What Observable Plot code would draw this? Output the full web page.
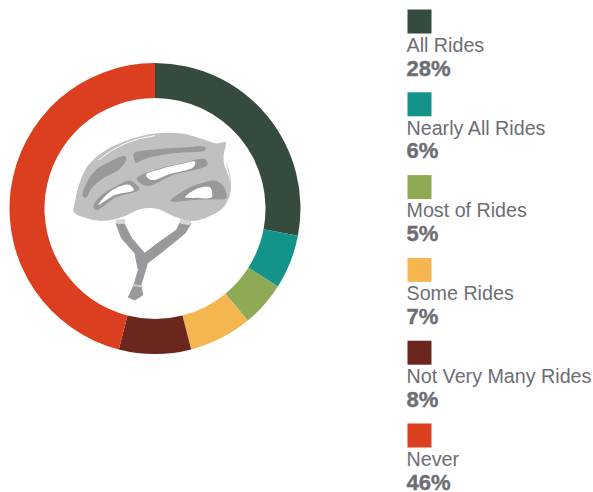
<!DOCTYPE html>
<html><head><meta charset="utf-8">
<script src="https://cdn.jsdelivr.net/npm/d3@7"></script>
<script src="https://cdn.jsdelivr.net/npm/@observablehq/plot@0.6"></script>
<style>html,body{margin:0;padding:0;background:#fff}svg{display:block}</style>
</head><body><div id="chart"></div>
<script>
const categories = ["All Rides","Nearly All Rides","Most of Rides","Some Rides","Not Very Many Rides","Never"];
const shares = [28,6,5,7,8,46];
const colors = ["#354b3e","#13938a","#8faa55","#f6b64f","#6b271d","#db3f20"];
const rows = categories.map((category,i)=>({category,share:shares[i],label:shares[i]+"%"}));

const helmet = {
  shell:[[42,306],[46,270],[60,215],[85,165],[130,125],[190,95],[280,71],[360,70],[430,88],[465,100],[498,97],[497,108],[491,135],[493,165],[508,205],[510,250],[492,290],[445,320],[395,333],[345,320],[290,296],[240,298],[195,318],[140,332],[85,326]],
  vents:[
    [[68,258],[80,218],[110,178],[150,155],[195,138],[198,150],[178,178],[130,205],[95,235],[78,263]],
    [[222,130],[290,118],[360,113],[435,111],[436,120],[340,130],[260,145],[227,158],[222,145]],
    [[230,205],[300,175],[370,158],[435,147],[442,165],[340,195],[265,228],[240,220]],
    [[100,290],[125,255],[170,228],[210,212],[238,238],[165,264],[110,300]],
    [[332,272],[390,232],[430,218],[465,212],[490,228],[499,265],[460,268],[400,270],[345,275]]
  ],
  holes:[
    [[258,195],[310,175],[360,163],[405,155],[400,172],[330,192],[275,210]],
    [[115,285],[150,245],[205,224],[222,240],[165,255]],
    [[375,262],[415,235],[450,232],[455,262],[410,263]]
  ],
  strap:[[168,340],[185,385],[225,430],[235,480],[222,525],[205,562],[225,570],[248,555],[243,525],[262,460],[320,415],[375,370],[393,340],[362,335],[350,360],[300,395],[254,430],[215,385],[192,340]],
  clips:[[[166,330],[195,326],[196,341],[170,342]],[[360,328],[394,334],[390,345],[362,342]]]
};
const smooth = d3.line().curve(d3.curveCatmullRomClosed.alpha(0.5));

function donut(index, scales) {
  const g = d3.create("svg:g").attr("transform","translate(155,208.5)");
  const pie = d3.pie().sort(null).value(d=>d.share)(rows);
  const arc = d3.arc().innerRadius(110.5).outerRadius(145.5);
  g.selectAll("path").data(pie).join("path").attr("d",arc).attr("fill",d=>scales.color(d.data.category));
  return g.node();
}
function helmetMark() {
  const g = d3.create("svg:g").attr("transform","translate(60,110) scale(0.3333)");
  const straight = d3.line().curve(d3.curveLinearClosed);
  g.append("path").attr("d",straight(helmet.strap)).attr("fill","#98999c").attr("stroke","#98999c").attr("stroke-width",3).attr("stroke-linejoin","round");
  for (const c of helmet.clips) g.append("path").attr("d",straight(c)).attr("fill","#d4d5d6");
  g.append("path").attr("d","M220 525L248 530").attr("stroke","#d4d5d6").attr("stroke-width",5);
  g.append("path").attr("d",smooth(helmet.shell)).attr("fill","#bfc0c2");
  for (const v of helmet.vents) g.append("path").attr("d",smooth(v)).attr("fill","#98999c");
  for (const v of helmet.holes) g.append("path").attr("d",smooth(v)).attr("fill","#fff");
  g.append("path").attr("d","M115 150Q190 88 285 77").attr("fill","none").attr("stroke","#fff").attr("stroke-width",3);
  g.append("path").attr("d","M498 160Q522 215 506 265").attr("fill","none").attr("stroke","#bfc0c2").attr("stroke-width",2.5);
  return g.node();
}

const font = "Liberation Sans";
const plot = Plot.plot({
  width:593, height:492, margin:0, style:{background:"#fff"},
  x:{domain:[0,593],range:[0,593],axis:null},
  y:{type:"point",domain:categories,range:[21,435],padding:0,round:false,axis:null},
  color:{domain:categories,range:colors},
  marks:[
    donut, helmetMark,
    Plot.dot(rows,{x:()=>419,y:"category",symbol:"square",r:13.54,fill:"category"}),
    Plot.text(rows,{x:()=>406,y:"category",text:"category",dy:24,textAnchor:"start",fontSize:19.7,fill:"#6d6e73",fontFamily:font}),
    Plot.text(rows,{x:()=>406,y:"category",text:"label",dy:47,textAnchor:"start",fontSize:22,fontWeight:"bold",fill:"#6d6e73",stroke:"#6d6e73",strokeWidth:0.4,fontFamily:font})
  ]
});
document.getElementById("chart").append(plot);
</script></body></html>
